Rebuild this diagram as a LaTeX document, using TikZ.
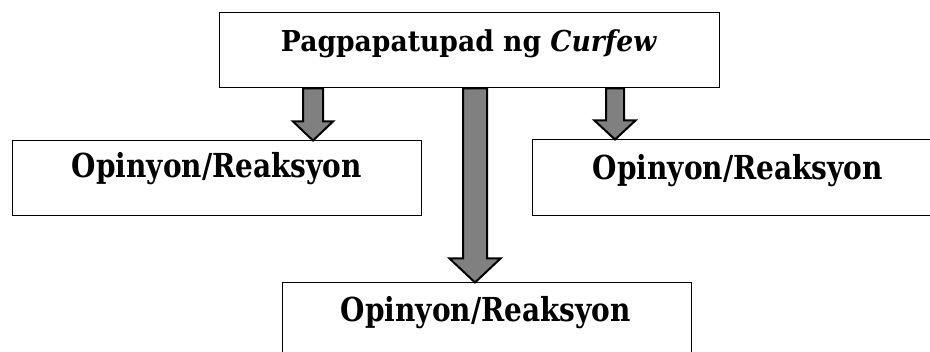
\documentclass[tikz,border=0pt]{standalone}
\usepackage{fontspec}
\setmainfont{DejaVu Serif}
\usepackage{graphicx}
\usetikzlibrary{calc}
\definecolor{arrowgray}{RGB}{128,128,128}
\tikzset{
  box/.style={draw=black, line width=1pt, fill=white, rectangle, inner sep=0pt},
  lbl/.style={anchor=base, inner sep=0pt, font=\bfseries},
  barr/.style={draw=black, line width=2pt, fill=arrowgray, line join=miter}
}
\newcommand\blockarrow[5]{%
  \draw[barr] let \p1=(#1), \p2=(#2) in
    (\x1-#3,\y1) -- (\x1+#3,\y1) -- (\x1+#3,\y2+#5) -- (\x1+#4,\y2+#5)
    -- (\x2,\y2) -- (\x1-#4,\y2+#5) -- (\x1-#3,\y2+#5) -- cycle;}
\newcommand\optext{\scalebox{1}[1.18]{\resizebox{290pt}{!}{Opinyon/Reaksyon}}}
\begin{document}
\begin{tikzpicture}[x=1pt,y=-1pt]
\useasboundingbox (0,0) rectangle (930,352);
\clip (0,0) rectangle (930,352);
% boxes
\node[box, minimum width=500pt, minimum height=75pt] (top) at (469,50.5) {};
\node[box, minimum width=409pt, minimum height=75pt] (left) at (216.5,178.5) {};
\node[box, minimum width=412pt, minimum height=76pt] (right) at (738,178) {};
\node[box, minimum width=409pt, minimum height=90pt] (bottom) at (486.5,328) {};
% labels
\node[lbl] (ttop) at (469,52) {\scalebox{1}[1.08]{\resizebox{376pt}{!}{Pagpapatupad ng \textit{Curfew}}}};
\node[lbl] (tleft) at (217,178) {\optext};
\node[lbl] (tright) at (738,180) {\optext};
\node[lbl] (tbottom) at (486,322) {\optext};
% arrow axes
\coordinate (xl) at (313,0);
\coordinate (xm) at (475,0);
\coordinate (xr) at (615,0);
\blockarrow{xl |- top.south}{xl |- left.north}{10pt}{20pt}{19pt}
\blockarrow{xm |- top.south}{xm |- bottom.north}{12pt}{25.5pt}{24pt}
\blockarrow{xr |- top.south}{xr |- right.north}{9pt}{20.5pt}{19pt}
\end{tikzpicture}
\end{document}
